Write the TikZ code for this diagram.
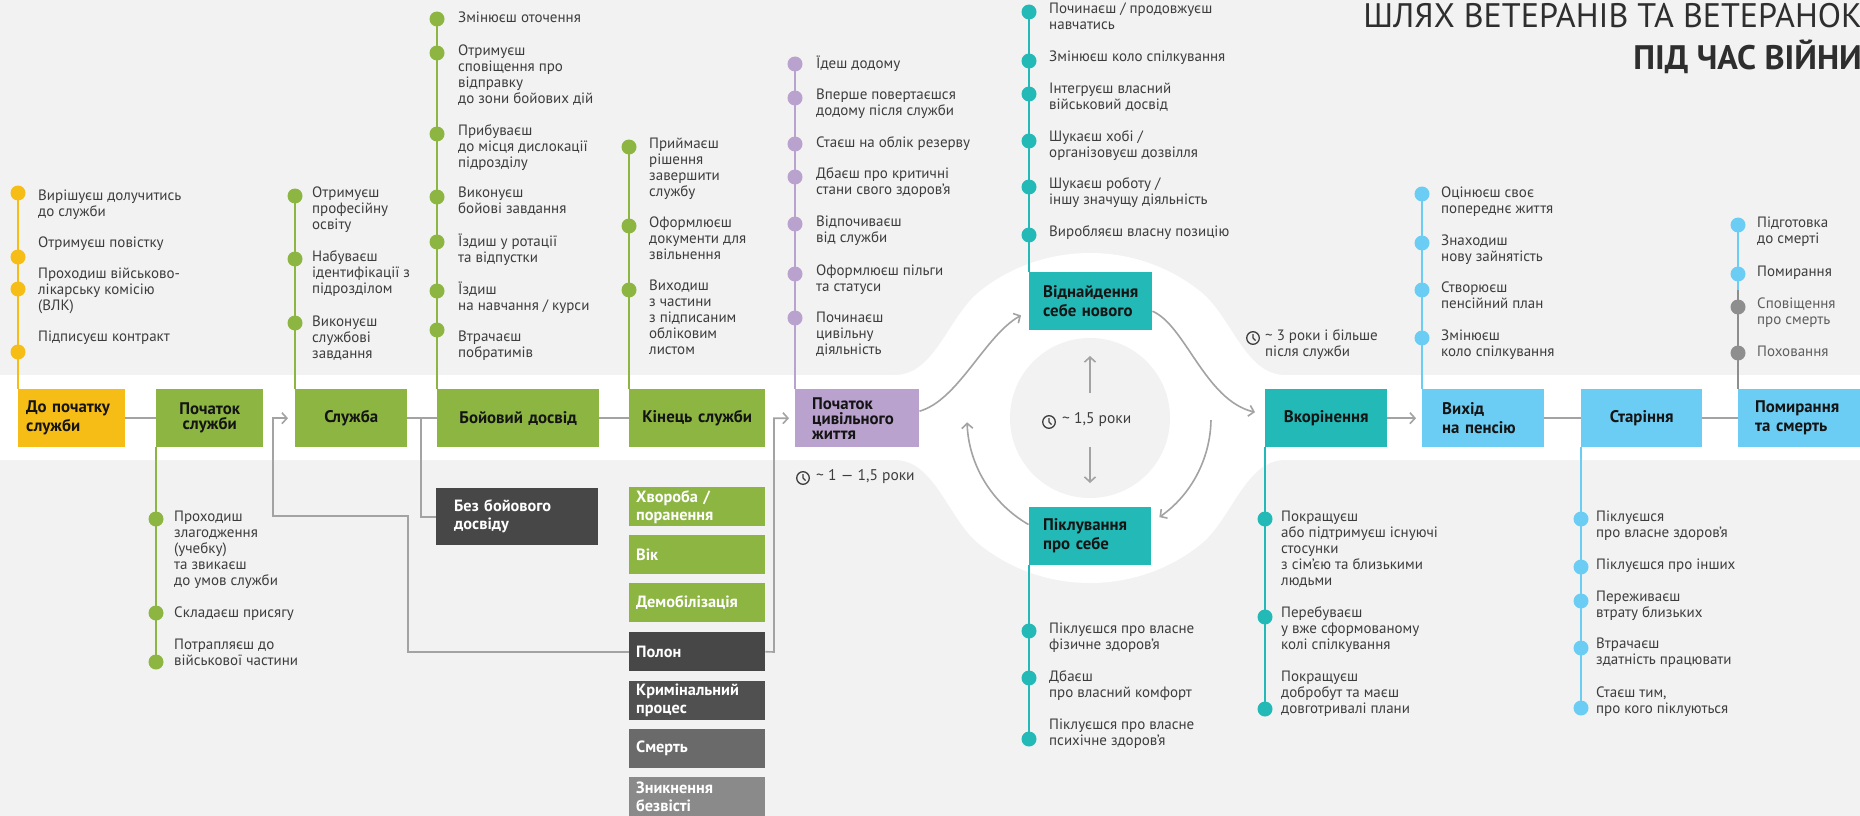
\documentclass[tikz,border=0pt]{standalone}
\usepackage{fontspec}
\setmainfont{PT Sans}
\usetikzlibrary{arrows.meta,calc}
\definecolor{bg}{HTML}{F2F2F2}
\definecolor{cyel}{HTML}{F6BD16}
\definecolor{cgrn}{HTML}{8DB541}
\definecolor{clav}{HTML}{B9A2CD}
\definecolor{cteal}{HTML}{23B9B6}
\definecolor{cblue}{HTML}{6CCDF4}
\definecolor{cdark}{HTML}{474747}
\definecolor{cdarkb}{HTML}{505050}
\definecolor{cmid}{HTML}{6A6A6A}
\definecolor{clight}{HTML}{8A8A8A}
\definecolor{cgdot}{HTML}{8E8E8E}
\definecolor{cline}{HTML}{A3A3A3}
\definecolor{ctxt}{HTML}{3D3D3D}
\definecolor{ctxtl}{HTML}{5E5E5E}
\definecolor{cbtxt}{HTML}{141414}
\definecolor{ctitle}{HTML}{2E2E2E}
\tikzset{
  itemtxt/.style={anchor=north west, inner sep=0pt, align=left, text=ctxt, font=\fontsize{15}{16}\selectfont, yshift=7.2pt},
  mbox/.style={rectangle, anchor=north west, inner ysep=0pt, minimum height=58pt, text=cbtxt, font=\fontsize{16.8}{19}\selectfont\bfseries},
  lbox/.style={rectangle, anchor=north west, inner ysep=0pt, minimum height=39pt, text=white, align=left, font=\fontsize{16.3}{18}\selectfont\bfseries},
  conn/.style={draw=cline, line width=1.6pt},
  arr/.style={-{Straight Barb[length=5pt,width=11pt]}},
  tline/.style={line width=2pt},
  lab/.style={inner sep=0pt, anchor=west, text=ctxt, font=\fontsize{15.5}{16}\selectfont},
  clockst/.style={draw=ctxt, line width=1.3pt},
}
\newcommand\putitem[4]{\node[itemtxt] (#1) at (#2,#3) {\strut #4};}
\newcommand\putdot[3]{\fill[#1] (#2,#3) circle (7.5);}
\newcommand\clockat[1]{\draw[clockst] #1 circle (6.3); \draw[clockst] #1 -- ++(0,-3.8) #1 -- ++(2.6,2.6);}
\begin{document}
\begin{tikzpicture}[x=1pt,y=-1pt]
\useasboundingbox (0,0) rectangle (1860,816);
% background
\fill[bg] (0,0) rectangle (1860,816);
\fill[white] (0,375) -- (895,375) .. controls (935,375) and (948.2,316.7) .. (979.4,291.6)
  arc[start angle=-130, end angle=-50, x radius=172, y radius=165]
  .. controls (1231.8,316.7) and (1245,375) .. (1285,375) -- (1860,375) -- (1860,460) -- (1285,460)
  .. controls (1245,460) and (1231.8,519.3) .. (1200.6,544.4)
  arc[start angle=50, end angle=130, x radius=172, y radius=165]
  .. controls (948.2,519.3) and (935,460) .. (895,460) -- (0,460) -- cycle;
\coordinate (C) at (1090,418);
\fill[bg] (C) circle (80);

% title
\node[anchor=north east, inner sep=0pt, align=right, text=ctitle, font=\fontsize{34}{40}\selectfont] (title) at (1862,-1) {\strut ШЛЯХ ВЕТЕРАНІВ ТА ВЕТЕРАНОК\\\textbf{ПІД ЧАС ВІЙНИ}};

% ---- timeline stems (drawn first) ----
\coordinate (dA) at (18,193);   \draw[tline,cyel]  (dA) -- (18,389);
\coordinate (dB) at (156,662);  \draw[tline,cgrn]  (156,447) -- (dB);
\coordinate (dC) at (295,196);  \draw[tline,cgrn]  (dC) -- (295,389);
\coordinate (dD) at (437,19);   \draw[tline,cgrn]  (dD) -- (437,389);
\coordinate (dE) at (629,147);  \draw[tline,cgrn]  (dE) -- (629,389);
\coordinate (dF) at (795,64);   \draw[tline,clav]  (dF) -- (795,389);
\coordinate (dG) at (1029,12);  \draw[tline,cteal] (dG) -- (1029,272);
\coordinate (dH) at (1029,739); \draw[tline,cteal] (1029,565) -- (dH);
\coordinate (dI) at (1265,709); \draw[tline,cteal] (1265,447) -- (dI);
\coordinate (dJ) at (1422,194); \draw[tline,cblue] (dJ) -- (1422,389);
\coordinate (dK) at (1738,225); \draw[tline,cblue] (dK) -- (1738,290);
\draw[tline,cgdot] (1738,290) -- (1738,389);
\coordinate (dL) at (1581,708); \draw[tline,cblue] (1581,447) -- (dL);

% ---- main boxes ----
\node[mbox, fill=cyel, text width=91pt, inner xsep=8pt, align=left] (b1) at (18,389) {До початку\\служби};
\node[mbox, fill=cgrn, text width=99pt, inner xsep=4pt, align=center, font=\fontsize{16.8}{15}\selectfont\bfseries] (b2) at (156,389) {Початок\\служби};
\node[mbox, fill=cgrn, text width=104pt, inner xsep=4pt, align=center] (b3) at (295,389) {Служба};
\node[mbox, fill=cgrn, text width=154pt, inner xsep=4pt, align=center] (b4) at (437,389) {Бойовий досвід};
\node[mbox, fill=cgrn, text width=128pt, inner xsep=4pt, align=center] (b5) at (629,389) {Кінець служби};
\node[mbox, fill=clav, text width=90pt, inner xsep=17pt, align=left, font=\fontsize{16.8}{15}\selectfont\bfseries] (b6) at (795,389) {Початок\\цивільного\\життя};
\node[mbox, fill=cteal, text width=95pt, inner xsep=14pt, align=left] (b7) at (1029,272) {Віднайдення\\себе нового};
\node[mbox, fill=cteal, text width=94pt, inner xsep=14pt, align=left] (b8) at (1029,507) {Піклування\\про себе};
\node[mbox, fill=cteal, text width=114pt, inner xsep=4pt, align=center] (b9) at (1265,389) {Вкорінення};
\node[mbox, fill=cblue, text width=82pt, inner xsep=20pt, align=left] (b10) at (1422,389) {Вихід\\на пенсію};
\node[mbox, fill=cblue, text width=113pt, inner xsep=4pt, align=center] (b11) at (1581,389) {Старіння};
\node[mbox, fill=cblue, text width=96pt, inner xsep=17pt, align=left] (b12) at (1738,389) {Помирання\\та смерть};

% ---- lower boxes ----
\node[lbox, fill=cdark, minimum height=57pt, text width=126pt, inner xsep=18pt] (l1) at (436,488) {Без бойового\\досвіду};
\node[lbox, fill=cgrn, text width=122pt, inner xsep=7pt] (l2) at (629,487) {Хвороба /\\поранення};
\node[lbox, fill=cgrn, text width=122pt, inner xsep=7pt] (l3) at (629,535) {Вік};
\node[lbox, fill=cgrn, text width=122pt, inner xsep=7pt] (l4) at (629,583) {Демобілізація};
\node[lbox, fill=cdark, text width=122pt, inner xsep=7pt] (l5) at (629,632) {Полон};
\node[lbox, fill=cdarkb, text width=122pt, inner xsep=7pt] (l6) at (629,681) {Кримінальний\\процес};
\node[lbox, fill=cmid, text width=122pt, inner xsep=7pt] (l7) at (629,729) {Смерть};
\node[lbox, fill=clight, text width=122pt, inner xsep=7pt] (l8) at (629,777) {Зникнення\\безвісті};

% ---- connectors ----
\draw[conn] (b1.east) -- (b2.west);
\draw[conn] (b3.east) -- (b4.west);
\draw[conn] (b4.east) -- (b5.west);
\coordinate (j1) at (421,418);
\draw[conn] (j1) |- (l1.west);
\coordinate (k1) at (408,516);
\coordinate (k2) at (273,516);
\draw[conn, arr, shorten >=7pt] (l5.west) -| (k1) -- (k2) |- (b3.west);
\coordinate (k3) at (774,652);
\draw[conn, arr, shorten >=6pt] (l5.east) -- (k3) |- (b6.west);
\draw[conn, arr] ([yshift=7pt]b6.east) .. controls +(39,-11) and +(-36,20) .. ([xshift=-8pt,yshift=15pt]b7.south west);
\draw[conn, arr] ([yshift=-10pt]b7.east) .. controls +(33,14) and +(-50,-12) .. ([xshift=-10pt,yshift=6pt]b9.west);
\draw[conn, arr] ($(C)+(1:121)$) arc[start angle=1, end angle=55, radius=121];
\draw[conn, arr] ($(C)+(120:123)$) arc[start angle=120, end angle=178, radius=123];
\coordinate (u0) at (1090,393); \coordinate (u1) at (1090,356);
\draw[conn, arr] (u0) -- (u1);
\coordinate (w0) at (1090,447); \coordinate (w1) at (1090,483);
\draw[conn, arr] (w0) -- (w1);
\draw[conn, arr, shorten >=6pt] (b9.east) -- (b10.west);
\draw[conn] (b10.east) -- (b11.west);
\draw[conn] (b11.east) -- (b12.west);

% ---- dots ----
\putdot{cyel}{18}{193}\putdot{cyel}{18}{257}\putdot{cyel}{18}{289}\putdot{cyel}{18}{352}
\putdot{cgrn}{156}{519}\putdot{cgrn}{156}{613}\putdot{cgrn}{156}{662}
\putdot{cgrn}{295}{196}\putdot{cgrn}{295}{259}\putdot{cgrn}{295}{323}
\putdot{cgrn}{437}{19}\putdot{cgrn}{437}{53}\putdot{cgrn}{437}{134}\putdot{cgrn}{437}{197}\putdot{cgrn}{437}{242}\putdot{cgrn}{437}{291}\putdot{cgrn}{437}{330}
\putdot{cgrn}{629}{147}\putdot{cgrn}{629}{226}\putdot{cgrn}{629}{290}
\putdot{clav}{795}{64}\putdot{clav}{795}{98}\putdot{clav}{795}{144}\putdot{clav}{795}{177}\putdot{clav}{795}{224}\putdot{clav}{795}{274}\putdot{clav}{795}{318}
\putdot{cteal}{1029}{12}\putdot{cteal}{1029}{61}\putdot{cteal}{1029}{94}\putdot{cteal}{1029}{141}\putdot{cteal}{1029}{187}\putdot{cteal}{1029}{235}
\putdot{cteal}{1029}{631}\putdot{cteal}{1029}{678}\putdot{cteal}{1029}{739}
\putdot{cteal}{1265}{519}\putdot{cteal}{1265}{617}\putdot{cteal}{1265}{709}
\putdot{cblue}{1422}{194}\putdot{cblue}{1422}{243}\putdot{cblue}{1422}{290}\putdot{cblue}{1422}{338}
\putdot{cblue}{1738}{225}\putdot{cblue}{1738}{274}\putdot{cgdot}{1738}{307}\putdot{cgdot}{1738}{353}
\putdot{cblue}{1581}{519}\putdot{cblue}{1581}{567}\putdot{cblue}{1581}{601}\putdot{cblue}{1581}{648}\putdot{cblue}{1581}{708}

% ---- item texts ----
\putitem{A1}{38}{196}{Вирішуєш долучитись\\до служби}
\putitem{A2}{38}{243}{Отримуєш повістку}
\putitem{A3}{38}{274}{Проходиш військово-\\лікарську комісію\\(ВЛК)}
\putitem{A4}{38}{337}{Підписуєш контракт}

\putitem{B1}{174}{517}{Проходиш\\злагодження\\(учебку)\\та звикаєш\\до умов служби}
\putitem{B2}{174}{613}{Складаєш присягу}
\putitem{B3}{174}{645}{Потрапляєш до\\військової частини}

\putitem{C1}{312}{193}{Отримуєш\\професійну\\освіту}
\putitem{C2}{312}{257}{Набуваєш\\ідентифікації з\\підрозділом}
\putitem{C3}{312}{322}{Виконуєш\\службові\\завдання}

\putitem{D1}{458}{18}{Змінюєш оточення}
\putitem{D2}{458}{51}{Отримуєш\\сповіщення про\\відправку\\до зони бойових дій}
\putitem{D3}{458}{131}{Прибуваєш\\до місця дислокації\\підрозділу}
\putitem{D4}{458}{193}{Виконуєш\\бойові завдання}
\putitem{D5}{458}{241}{Їздиш у ротації\\та відпустки}
\putitem{D6}{458}{289}{Їздиш\\на навчання / курси}
\putitem{D7}{458}{337}{Втрачаєш\\побратимів}

\putitem{E1}{649}{144}{Приймаєш\\рішення\\завершити\\службу}
\putitem{E2}{649}{223}{Оформлюєш\\документи для\\звільнення}
\putitem{E3}{649}{286}{Виходиш\\з частини\\з підписаним\\обліковим\\листом}

\putitem{F1}{816}{63}{Їдеш додому}
\putitem{F2}{816}{95}{Вперше повертаєшся\\додому після служби}
\putitem{F3}{816}{143}{Стаєш на облік резерву}
\putitem{F4}{816}{174}{Дбаєш про критичні\\стани свого здоров’я}
\putitem{F5}{816}{222}{Відпочиваєш\\від служби}
\putitem{F6}{816}{271}{Оформлюєш пільги\\та статуси}
\putitem{F7}{816}{318}{Починаєш\\цивільну\\діяльність}

\putitem{G1}{1049}{9}{Починаєш / продовжуєш\\навчатись}
\putitem{G2}{1049}{57}{Змінюєш коло спілкування}
\putitem{G3}{1049}{89}{Інтегруєш власний\\військовий досвід}
\putitem{G4}{1049}{137}{Шукаєш хобі /\\організовуєш дозвілля}
\putitem{G5}{1049}{184}{Шукаєш роботу /\\іншу значущу діяльність}
\putitem{G6}{1049}{232}{Виробляєш власну позицію}

\putitem{H1}{1049}{629}{Піклуєшся про власне\\фізичне здоров’я}
\putitem{H2}{1049}{677}{Дбаєш\\про власний комфорт}
\putitem{H3}{1049}{725}{Піклуєшся про власне\\психічне здоров’я}

\putitem{I1}{1281}{517}{Покращуєш\\або підтримуєш існуючі\\стосунки\\з сім’єю та близькими\\людьми}
\putitem{I2}{1281}{613}{Перебуваєш\\у вже сформованому\\колі спілкування}
\putitem{I3}{1281}{677}{Покращуєш\\добробут та маєш\\довготривалі плани}

\putitem{J1}{1441}{193}{Оцінюєш своє\\попереднє життя}
\putitem{J2}{1441}{241}{Знаходиш\\нову зайнятість}
\putitem{J3}{1441}{288}{Створюєш\\пенсійний план}
\putitem{J4}{1441}{336}{Змінюєш\\коло спілкування}

\putitem{K1}{1757}{223}{Підготовка\\до смерті}
\putitem{K2}{1757}{272}{Помирання}
\node[itemtxt, text=ctxtl] (K3) at (1757,304) {\strut Сповіщення\\про смерть};
\node[itemtxt, text=ctxtl] (K4) at (1757,352) {\strut Поховання};

\putitem{L1}{1596}{517}{Піклуєшся\\про власне здоров’я}
\putitem{L2}{1596}{565}{Піклуєшся про інших}
\putitem{L3}{1596}{597}{Переживаєш\\втрату близьких}
\putitem{L4}{1596}{644}{Втрачаєш\\здатність працювати}
\putitem{L5}{1596}{693}{Стаєш тим,\\про кого піклуються}

% ---- durations ----
\clockat{(803,478)}
\node[lab] (lb1) at (816,477) {\textasciitilde\ 1 — 1,5 роки};
\clockat{(1049,422)}
\node[lab] (lb2) at (1062,420) {\textasciitilde\ 1,5 роки};
\clockat{(1253,338)}
\putitem{lb3}{1265}{336}{\textasciitilde\ 3 роки і більше\\після служби}
\end{tikzpicture}
\end{document}
